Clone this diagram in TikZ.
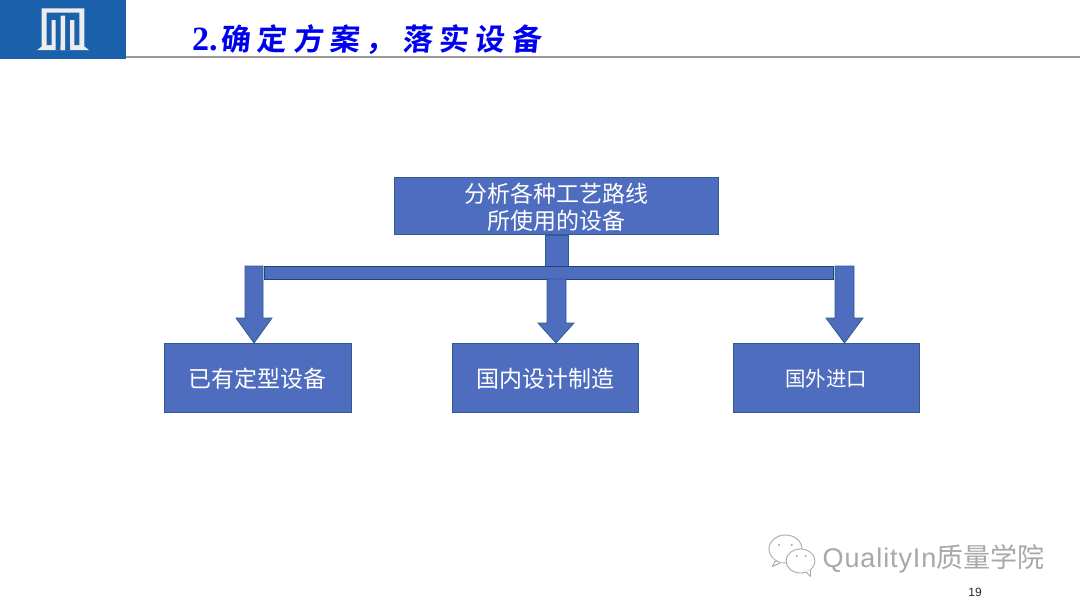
\documentclass[tikz,border=0pt]{standalone}
\usepackage{fontspec}
\setmainfont[LetterSpace=3.3]{Liberation Sans}
\newfontfamily\pagefont{Liberation Sans}
\newfontfamily\cjk{Noto Sans CJK SC}
\newfontfamily\cjktitle[LetterSpace=21,FakeSlant=0.1,BoldFont={Noto Sans CJK SC Bold}]{Noto Sans CJK SC}
\newfontfamily\titlenum[BoldFont={Liberation Serif Bold}]{Liberation Serif}
\newcommand\lowtext[1]{\raisebox{-1.2pt}[\height][\depth]{#1}}
\definecolor{boxfill}{HTML}{4F6DBE}
\definecolor{boxedge}{HTML}{2F5C8F}
\definecolor{baredge}{HTML}{1F4478}
\definecolor{logoblue}{HTML}{1A60AB}
\definecolor{logomark}{HTML}{EDEDED}
\definecolor{rulegray}{HTML}{9A9A9A}
\definecolor{markgray}{HTML}{A8A8A8}
\definecolor{titleblue}{HTML}{0000F0}
\tikzset{
  x=1pt,y=-1pt,
  boxnode/.style={draw=boxedge,line width=0.9pt,fill=boxfill,text=white,align=center,inner sep=0pt,font=\cjk\fontsize{23}{27}\selectfont,anchor=north west},
  blockarrow/.style={draw=boxedge,line width=0.8pt,fill=boxfill,line join=miter},
  busbar/.style={draw=baredge,line width=0.9pt,fill=boxfill},
  logostroke/.style={fill=logomark,draw=none},
  bubble/.style={draw=markgray,line width=0.9pt,fill=white,line join=round}
}
\begin{document}
\begin{tikzpicture}
\useasboundingbox (0,0) rectangle (1080,608);
\fill[white] (0,0) rectangle (1080,608);
% header
\fill[logoblue] (0,0) rectangle (126,59);
\draw[rulegray,line width=1.6pt] (126,57) -- (1080,57);
% logo mark
\fill[logostroke] (41.7,8.3) -- (84.3,8.3) -- (84.3,46.5) -- (89,50) -- (37.3,50) -- (41.7,46.5) -- cycle;
\fill[logoblue] (46.7,12.7) rectangle (79.3,45) (55.7,45) rectangle (60.7,50) (65,45) rectangle (70,50);
\fill[logostroke] (51.7,20) rectangle (55.7,46) (60.7,15.7) rectangle (65,50) (70,20) rectangle (74.3,46);
\node[anchor=base west,inner sep=0pt,text=titleblue,font=\bfseries\fontsize{30}{34}\selectfont] (title) at (192,50) {{\titlenum\fontsize{34}{34}\selectfont 2.}\hspace{3pt}{\cjktitle 确定方案，落实设备}};
% boxes
\node[boxnode,minimum width=323.5pt,minimum height=57pt] (top) at (394,177) {\lowtext{分析各种工艺路线}\\\lowtext{所使用的设备}};
\node[boxnode,minimum width=186.5pt,minimum height=69pt] (left) at (164,343) {\lowtext{已有定型设备}};
\node[boxnode,minimum width=186.5pt,minimum height=69pt] (mid) at (451.5,343) {\lowtext{国内设计制造}};
\node[boxnode,minimum width=186.5pt,minimum height=69pt,font=\cjk\fontsize{20.5}{25}\selectfont] (right) at (732.5,343) {\lowtext{国外进口}};
% stem and bar
\draw[blockarrow] (545,235) rectangle (568,266);
\node[busbar,anchor=north west,inner sep=0pt,minimum width=569pt,minimum height=12.5pt] (bar) at (264,266) {};
% arrows
\draw[blockarrow] (245,266) -- (263,266) -- (263,318) -- (272,318) -- (254,343) -- (236,318) -- (245,318) -- cycle;
\draw[blockarrow] (547,279) -- (566,279) -- (566,323) -- (574,323) -- (556,343) -- (538,323) -- (547,323) -- cycle;
\draw[blockarrow] (835,266) -- (854,266) -- (854,318) -- (863,318) -- (844.5,343) -- (826,318) -- (835,318) -- cycle;
% watermark icon
\draw[bubble] (775,561) -- (772.5,566.5) -- (782,562) -- cycle;
\draw[bubble] (785.5,549) ellipse (16.5 and 14);
\fill[white] (773,558) -- (783,563) -- (778,559) -- cycle;
\draw[bubble] (800.5,561) ellipse (14.5 and 12);
\draw[bubble] (806,572) -- (810.5,576.5) -- (810.5,569.5);
\foreach \cx/\cy in {779/545,791.7/545,796.7/556,805.7/556}{\fill[markgray] (\cx,\cy) circle (1.2);}
\node[anchor=base west,inner sep=0pt,text=markgray,font=\fontsize{27}{30}\selectfont] (brand) at (822.5,567) {QualityIn{\cjk 质量学院}};
\node[anchor=center,inner sep=0pt,text=black!85,font=\pagefont\fontsize{12}{14}\selectfont] (page) at (975,592) {19};
\end{tikzpicture}
\end{document}
